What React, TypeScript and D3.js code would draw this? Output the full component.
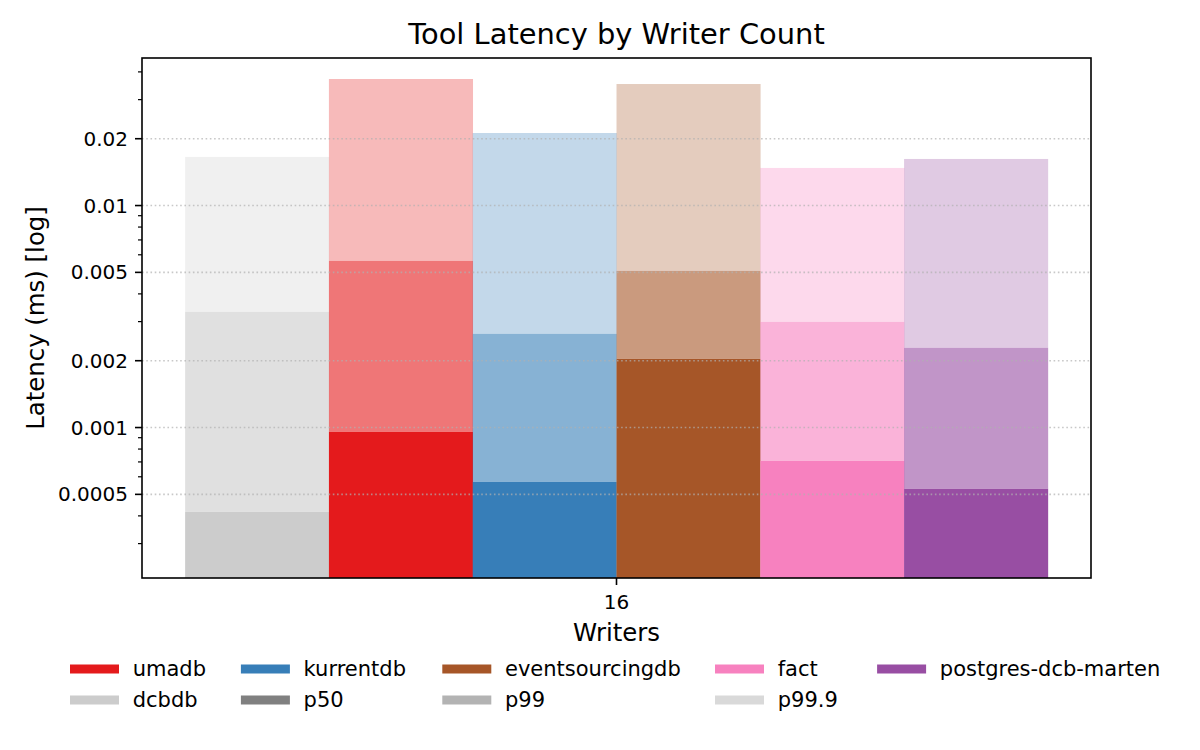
import React from "react";
import * as d3 from "d3";

const writerCount = "16";
const databases = ["dcbdb", "umadb", "kurrentdb", "eventsourcingdb", "fact", "postgres-dcb-marten"];
const dbColors = ["#cccccc", "#e41a1c", "#377eb8", "#a65628", "#f781bf", "#984ea3"];
const p50 = [0.000417, 0.000956, 0.000569, 0.002039, 0.000708, 0.00053];
const p99 = [0.003318, 0.005631, 0.002642, 0.005076, 0.002991, 0.002285];
const p999 = [0.01655, 0.03716, 0.02122, 0.03527, 0.01477, 0.01621];
const percentiles = ["p50", "p99", "p99.9"];
const percentileAlpha = [1, 0.6, 0.3];
const majorTicks = [0.0005, 0.001, 0.002, 0.005, 0.01, 0.02];
const majorTickLabels = ["0.0005", "0.001", "0.002", "0.005", "0.01", "0.02"];
const yDomain = [0.00021, 0.0462];

// legend (column-major, 2 rows)
const legendLabels = ["umadb", "dcbdb", "kurrentdb", "p50", "eventsourcingdb", "p99", "fact", "p99.9", "postgres-dcb-marten"];
const legendColors = ["#e41a1c", "#cccccc", "#377eb8", "#808080", "#a65628", "#b3b3b3", "#f781bf", "#d9d9d9", "#984ea3"];
const legendColX = [132.7, 303.6, 505, 777.7, 939.8];

const W = 1200, H = 750;
const L = 142, R = 1091, T = 58, B = 578;
const FONT = "DejaVu Sans";

export default function App() {
  const y = d3.scaleLog().domain(yDomain).range([B, T]);
  const n = databases.length;
  const x = d3.scaleLinear().domain([-n / 2 - 0.05 * n, n / 2 + 0.05 * n]).range([L, R]);

  const minorTicks: number[] = [];
  for (let e = -5; e <= 0; e++) {
    for (let k = 1; k <= 9; k++) {
      const v = +(k * Math.pow(10, e)).toPrecision(3);
      if (v < yDomain[0] || v > yDomain[1]) continue;
      if (majorTicks.some((m) => Math.abs(m - v) / v < 1e-6)) continue;
      minorTicks.push(v);
    }
  }

  const bars: JSX.Element[] = [];
  databases.forEach((db, i) => {
    const x0 = x(-n / 2 + i);
    const x1 = x(-n / 2 + i + 1);
    const levels = [p50[i], p99[i], p999[i]];
    levels.forEach((v, j) => {
      const lo = j === 0 ? B : y(levels[j - 1]);
      const hi = y(v);
      bars.push(
        <rect key={db + percentiles[j]} x={x0} width={x1 - x0 + 0.3} y={hi} height={lo - hi}
          fill={dbColors[i]} fillOpacity={percentileAlpha[j]} />
      );
    });
  });

  return (
    <svg width={W} height={H} style={{ position: "absolute", left: 0, top: 0, background: "#fff" }}
      fontFamily={FONT}>
      <rect x={0} y={0} width={W} height={H} fill="#fff" />
      {bars}
      {majorTicks.map((t) => (
        <line key={"g" + t} x1={L} x2={R} y1={y(t)} y2={y(t)} stroke="#b0b0b0" strokeOpacity={0.7}
          strokeWidth={1.6} strokeDasharray="1.6,2.64" />
      ))}
      {/* y ticks */}
      {majorTicks.map((t, i) => (
        <g key={"yt" + t}>
          <line x1={L - 7} x2={L} y1={y(t)} y2={y(t)} stroke="#000" strokeWidth={1.6} />
          <text x={L - 14} y={y(t)} dy="0.35em" textAnchor="end" fontSize={20} fill="#000">{majorTickLabels[i]}</text>
        </g>
      ))}
      {minorTicks.map((t) => (
        <line key={"ym" + t} x1={L - 4} x2={L} y1={y(t)} y2={y(t)} stroke="#000" strokeWidth={1.2} />
      ))}
      {/* x tick */}
      <line x1={x(0)} x2={x(0)} y1={B} y2={B + 7} stroke="#000" strokeWidth={1.6} />
      <text x={x(0)} y={609} textAnchor="middle" fontSize={20} fill="#000">{writerCount}</text>
      {/* spines */}
      <rect x={L} y={T} width={R - L} height={B - T} fill="none" stroke="#000" strokeWidth={1.6} />
      {/* labels */}
      <text x={(L + R) / 2} y={641} textAnchor="middle" fontSize={24.4} fill="#000">Writers</text>
      <text transform={`translate(44,${(T + B) / 2}) rotate(-90)`} textAnchor="middle" fontSize={24.4} fill="#000">
        Latency (ms) [log]
      </text>
      <text x={(L + R) / 2} y={44} textAnchor="middle" fontSize={28.9} fill="#000">Tool Latency by Writer Count</text>
      {/* legend */}
      {legendLabels.map((lab, i) => {
        const col = Math.floor(i / 2);
        const row = i % 2;
        const cy = row === 0 ? 669 : 700;
        const tx = legendColX[col];
        return (
          <g key={"lg" + lab}>
            <rect x={tx - 62.7} y={cy - 4.5} width={49} height={9} fill={legendColors[i]} />
            <text x={tx} y={cy} dy="0.35em" fontSize={21} fill="#000">{lab}</text>
          </g>
        );
      })}
    </svg>
  );
}
